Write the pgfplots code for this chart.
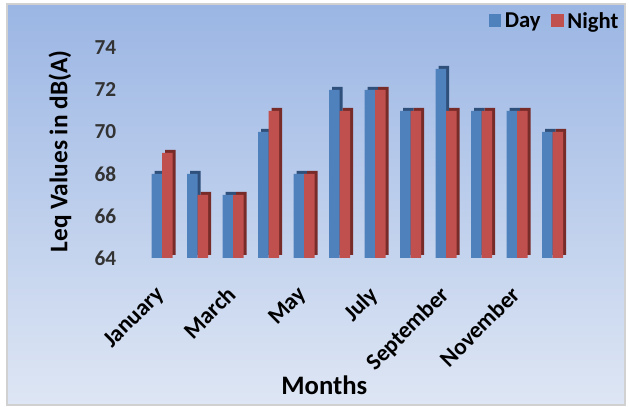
\documentclass[border=0pt]{standalone}
\usepackage{fontspec}
\setmainfont{Carlito}
\usepackage{pgfplots}
\usepackage{pgfplotstable}
\pgfplotsset{compat=1.18}
\definecolor{dayc}{RGB}{79,129,189}
\definecolor{dayd}{RGB}{48,80,124}
\definecolor{nightc}{RGB}{192,80,77}
\definecolor{nightd}{RGB}{120,44,42}
\definecolor{bgtop}{RGB}{155,182,228}
\definecolor{bgbot}{RGB}{222,230,244}

\pgfplotstableread{
x day night
0 68 69
1 68 67
2 67 67
3 70 71
4 68 68
5 72 71
6 72 72
7 71 71
8 73 71
9 71 71
10 71 71
11 70 70
}\datatable

\pgfplotsset{
  sqlegend/.style={legend image code/.code={\fill[##1,draw=none] (0pt,-4.2pt) rectangle (9.4pt,5.2pt);}},
}

\begin{document}
\begin{tikzpicture}
\useasboundingbox (0pt,0pt) rectangle (471.75pt,305.25pt);
\fill[white] (0pt,0pt) rectangle (471.75pt,305.25pt);
\shade[top color=bgtop,bottom color=bgbot] (5.25pt,1.5pt) rectangle (468.75pt,302.25pt);
\draw[black!18,line width=1.5pt] (5.25pt,1.5pt) rectangle (468.75pt,302.25pt);
\begin{axis}[
  at={(90.75pt,111.75pt)}, anchor=south west,
  scale only axis, width=344.25pt, height=157.5pt,
  xmin=-1.155, xmax=11.77, ymin=64, ymax=74,
  axis line style={draw=none}, major tick length=0pt,
  ytick={64,66,...,74},
  xtick={0,2,...,10},
  xticklabels={January,March,May,July,September,November},
  /pgf/number format/assume math mode=true,
  yticklabel style={font=\bfseries\fontsize{16}{19}\selectfont, text=black!80},
  xticklabel style={font=\bfseries\fontsize{17.5}{20}\selectfont, yshift=-15pt, xshift=-5.5pt, rotate=45, anchor=north east},
  xlabel={Months},
  xlabel style={at={(axis description cs:0.443,-0.605)}, anchor=center, font=\bfseries\fontsize{20}{24}\selectfont},
  ylabel={Leq Values in dB(A)},
  ylabel style={at={(axis description cs:-0.133,0.507)}, anchor=center, font=\bfseries\fontsize{19}{23}\selectfont},
  legend style={at={(axis description cs:1.095,1.195)}, anchor=north east, draw=none, fill=none,
    font=\bfseries\fontsize{17}{20}\selectfont, legend columns=2, inner sep=1pt,
    nodes={inner sep=2.6pt},
    /tikz/every even column/.append style={column sep=5.5pt}},
]
\addplot[ybar, bar width=7.875pt, bar shift=-3.94pt, fill=dayd, draw=none, xshift=2.25pt, yshift=2.25pt, forget plot] table[x=x,y=day]{\datatable};
\addplot[ybar, bar width=7.875pt, bar shift=-3.94pt, fill=dayc, draw=none, sqlegend] table[x=x,y=day]{\datatable};
\addlegendentry{Day}
\addplot[ybar, bar width=7.875pt, bar shift=3.94pt, fill=nightd, draw=none, xshift=2.25pt, yshift=2.25pt, forget plot] table[x=x,y=night]{\datatable};
\addplot[ybar, bar width=7.875pt, bar shift=3.94pt, fill=nightc, draw=none, sqlegend] table[x=x,y=night]{\datatable};
\addlegendentry{Night}
\end{axis}
\end{tikzpicture}
\end{document}
